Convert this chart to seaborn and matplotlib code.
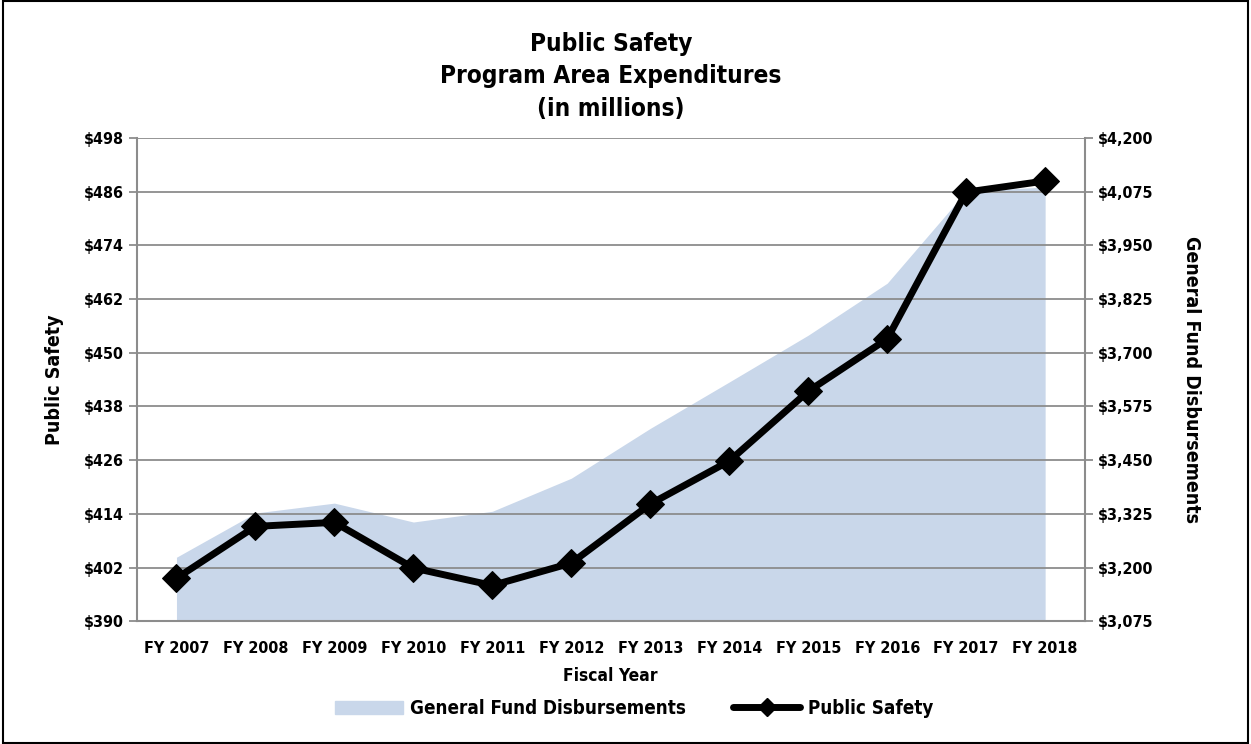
# -*- coding: utf-8 -*-

# Import the required libraries
import pandas as pd
import seaborn as sns
import matplotlib.pyplot as plt
from matplotlib.patches import Patch
from matplotlib.lines import Line2D
from matplotlib.ticker import FuncFormatter

# Chart data
years = ['FY 2007', 'FY 2008', 'FY 2009', 'FY 2010', 'FY 2011', 'FY 2012',
         'FY 2013', 'FY 2014', 'FY 2015', 'FY 2016', 'FY 2017', 'FY 2018']
public_safety = [399.6, 411.2, 412.1, 401.9, 398.0, 403.0,
                 416.2, 425.8, 441.4, 453.1, 485.9, 488.4]
general_fund = [3224, 3327, 3350, 3306, 3331, 3408,
                3524, 3632, 3741, 3862, 4076, 4086]

left_ticks = list(range(390, 499, 12))
right_ticks = list(range(3075, 4201, 125))

df = pd.DataFrame({'year': years, 'pos': range(len(years)),
                   'public_safety': public_safety, 'general_fund': general_fund})

sns.set_style('white')
plt.rcParams['font.family'] = ['DejaVu Sans']
plt.rcParams['font.stretch'] = 'condensed'
plt.rcParams['font.weight'] = 'bold'
plt.rcParams['text.color'] = 'black'
plt.rcParams['axes.labelcolor'] = 'black'

fig = plt.figure(figsize=(12.51, 7.44), dpi=100)
ax = fig.add_axes([0.1095, 0.165, 0.7575, 0.6495])
ax2 = ax.twinx()

# Area for General Fund Disbursements (right axis)
ax2.fill_between(df['pos'], right_ticks[0], df['general_fund'], color='#C9D7EA', lw=0)
ax2.set_ylim(right_ticks[0], right_ticks[-1])
ax2.set_yticks(right_ticks)
ax2.yaxis.set_major_formatter(FuncFormatter(lambda v, p: f'${v:,.0f}'))

# Line for Public Safety (left axis), drawn on top
ax.set_zorder(ax2.get_zorder() + 1)
ax.patch.set_visible(False)
sns.lineplot(data=df, x='pos', y='public_safety', ax=ax, color='black', lw=5,
             marker='D', markersize=14, markeredgecolor='black', zorder=3)
ax.set_ylim(left_ticks[0], left_ticks[-1])
ax.set_yticks(left_ticks)
ax.yaxis.set_major_formatter(FuncFormatter(lambda v, p: f'${v:.0f}'))
ax.yaxis.grid(True, color='#8c8c8c', lw=1.3, zorder=1)
ax.set_axisbelow(True)

ax.set_xlim(-0.5, len(years) - 0.5)
ax.set_xticks(range(len(years)))
ax.set_xticklabels(years)
ax.set_xticks([i - 0.5 for i in range(len(years) + 1)], minor=True)
ax.tick_params(axis='x', which='major', length=0, labelsize=11.5, pad=14, labelcolor='black')
ax.tick_params(axis='x', which='minor', length=6, color='#8c8c8c', width=1.3, direction='out')
ax.tick_params(axis='y', length=6, color='#8c8c8c', width=1.3, direction='out',
               labelsize=11.5, labelcolor='black')
ax2.tick_params(axis='y', length=6, color='#8c8c8c', width=1.3, direction='out',
                labelsize=11.5, labelcolor='black')

for a in (ax, ax2):
    for s in a.spines.values():
        s.set_visible(False)
ax.spines['left'].set_visible(True)
ax.spines['bottom'].set_visible(True)
ax2.spines['right'].set_visible(True)
for s in (ax.spines['left'], ax.spines['bottom'], ax2.spines['right']):
    s.set_color('#8c8c8c')
    s.set_linewidth(1.5)

ax.set_xlabel('Fiscal Year', fontsize=12.5, fontweight='bold', labelpad=8)
ax.set_ylabel('Public Safety', fontsize=14, fontweight='bold', labelpad=14)
ax2.set_ylabel('General Fund Disbursements', fontsize=14, fontweight='bold',
               rotation=-90, labelpad=34)

ax.set_title('Public Safety\nProgram Area Expenditures\n(in millions)',
             fontsize=17.5, fontweight='bold', pad=16, linespacing=1.45)

handles = [Patch(color='#C9D7EA', label='General Fund Disbursements'),
           Line2D([], [], color='black', lw=5, marker='D', markersize=9,
                  label='Public Safety')]
fig.legend(handles=handles, loc='center', bbox_to_anchor=(0.507, 0.048), ncol=2,
           frameon=False, fontsize=13.5, handlelength=3.6, columnspacing=2.5,
           handletextpad=0.4)

# Frame around the figure
fig.add_artist(plt.Rectangle((0.002, 0.002), 0.996, 0.996, transform=fig.transFigure,
                             fill=False, ec='black', lw=1.5))

plt.savefig('out.png', dpi=100)
